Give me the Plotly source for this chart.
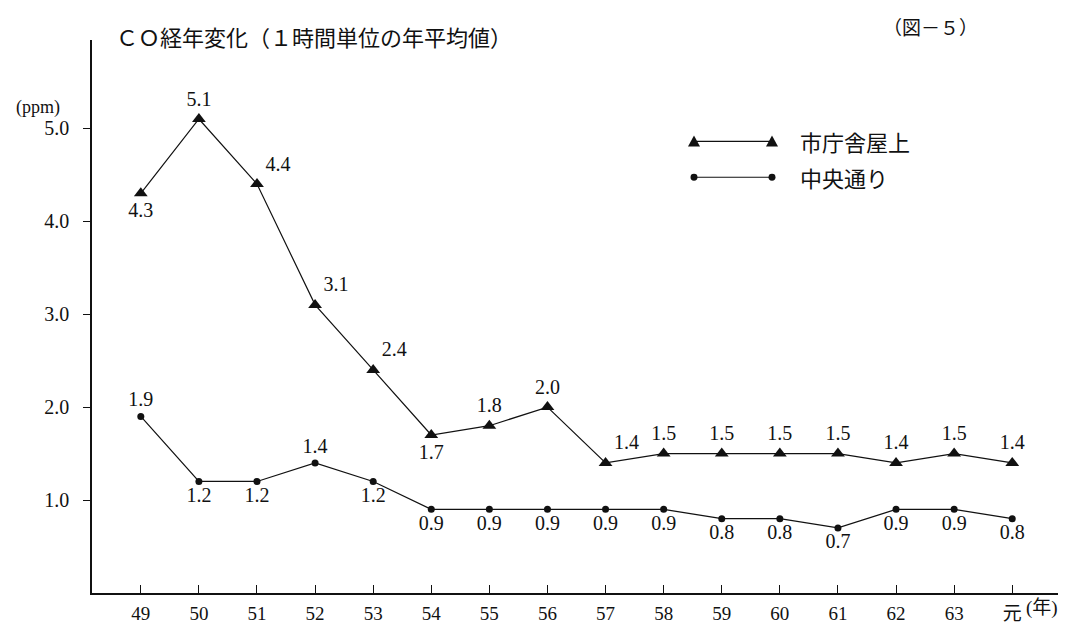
import plotly.graph_objects as go

# 年度 (昭和49年〜平成元年)
years = ["49", "50", "51", "52", "53", "54", "55", "56", "57", "58", "59", "60", "61", "62", "63", "元"]

# 市庁舎屋上 (ppm)
roof = [4.3, 5.1, 4.4, 3.1, 2.4, 1.7, 1.8, 2.0, 1.4, 1.5, 1.5, 1.5, 1.5, 1.4, 1.5, 1.4]

# 中央通り (ppm)
street = [1.9, 1.2, 1.2, 1.4, 1.2, 0.9, 0.9, 0.9, 0.9, 0.9, 0.8, 0.8, 0.7, 0.9, 0.9, 0.8]

y_ticks = [1.0, 2.0, 3.0, 4.0, 5.0]

FONT = "'Liberation Serif', 'Noto Sans CJK JP', serif"
JP_FONT = "'Noto Sans CJK JP', 'Liberation Serif', serif"

roof_pos = ["bottom center", "top center", "top right", "top right", "top right",
            "bottom center", "top center", "top center", "top right"] + ["top center"] * 7
street_pos = ["top center", "bottom center", "bottom center", "top center"] + ["bottom center"] * 12

fig = go.Figure()

fig.add_trace(go.Scatter(
    x=years, y=roof, mode="lines+markers+text",
    text=[f"{v:.1f}" for v in roof], textposition=roof_pos,
    textfont=dict(family=FONT, size=20, color="#111"),
    line=dict(color="#111", width=1.2),
    marker=dict(symbol="triangle-up", size=12, color="#111"),
    name="市庁舎屋上", showlegend=False,
))

fig.add_trace(go.Scatter(
    x=years, y=street, mode="lines+markers+text",
    text=[f"{v:.1f}" for v in street], textposition=street_pos,
    textfont=dict(family=FONT, size=20, color="#111"),
    line=dict(color="#111", width=1.2),
    marker=dict(symbol="circle", size=7, color="#111"),
    name="中央通り", showlegend=False,
))

# plot area in pixels
L, R, T, B = 84, 1060, 32, 588


def px(x):
    return (x - L) / (R - L)


def py(y):
    return (B - y) / (B - T)


shapes = []
# legend: 市庁舎屋上
shapes.append(dict(type="line", xref="paper", yref="paper",
                   x0=px(686), x1=px(764), y0=py(134), y1=py(134),
                   line=dict(color="#111", width=1.2)))
for cx in (686, 764):
    path = "M {} {} L {} {} L {} {} Z".format(
        px(cx - 6), py(139), px(cx + 6), py(139), px(cx), py(128))
    shapes.append(dict(type="path", xref="paper", yref="paper", path=path,
                       fillcolor="#111", line=dict(color="#111", width=0)))
# legend: 中央通り
shapes.append(dict(type="line", xref="paper", yref="paper",
                   x0=px(686), x1=px(764), y0=py(170), y1=py(170),
                   line=dict(color="#111", width=1.2)))
for cx in (686, 764):
    shapes.append(dict(type="circle", xref="paper", yref="paper",
                       x0=px(cx - 3.5), x1=px(cx + 3.5), y0=py(173.5), y1=py(166.5),
                       fillcolor="#111", line=dict(color="#111", width=0)))

annotations = [
    dict(text="ＣＯ経年変化（１時間単位の年平均値）", xref="paper", yref="paper",
         x=px(106), y=py(28), xanchor="left", yanchor="middle", showarrow=False,
         font=dict(family=JP_FONT, size=22, color="#111")),
    dict(text="（図－５）", xref="paper", yref="paper",
         x=px(922), y=py(18), xanchor="center", yanchor="middle", showarrow=False,
         font=dict(family=JP_FONT, size=19, color="#111")),
    dict(text="(ppm)", xref="paper", yref="paper",
         x=px(30), y=py(100), xanchor="center", yanchor="middle", showarrow=False,
         font=dict(family=FONT, size=18, color="#111")),
    dict(text="市庁舎屋上", xref="paper", yref="paper",
         x=px(790), y=py(134), xanchor="left", yanchor="middle", showarrow=False,
         font=dict(family=JP_FONT, size=22, color="#111")),
    dict(text="中央通り", xref="paper", yref="paper",
         x=px(790), y=py(170), xanchor="left", yanchor="middle", showarrow=False,
         font=dict(family=JP_FONT, size=22, color="#111")),
    dict(text="(年)", xref="paper", yref="paper",
         x=px(1016), y=py(603), xanchor="left", yanchor="middle", showarrow=False,
         font=dict(family=FONT, size=19, color="#111")),
]

fig.update_layout(
    width=1066, height=622,
    margin=dict(l=L, r=1066 - R, t=T, b=622 - B),
    paper_bgcolor="white", plot_bgcolor="white",
    font=dict(family=FONT, size=18, color="#111"),
    shapes=shapes, annotations=annotations,
    showlegend=False,
)

fig.update_xaxes(
    type="category", range=[-0.84, 15.96],
    showline=True, linecolor="#111", linewidth=1.5,
    showgrid=False, zeroline=False,
    ticks="inside", ticklen=8, tickcolor="#111", tickwidth=1.2,
    ticklabelstandoff=2,
    tickfont=dict(family=FONT, size=19, color="#111"),
)

fig.update_yaxes(
    range=[0, 5.95],
    showline=True, linecolor="#111", linewidth=1.5,
    showgrid=False, zeroline=False,
    tickvals=y_ticks, tickformat=".1f",
    ticks="outside", ticklen=7, tickcolor="#111", tickwidth=1.2,
    ticklabelstandoff=10,
    tickfont=dict(family=FONT, size=20, color="#111"),
)

fig.write_html("out.html")
